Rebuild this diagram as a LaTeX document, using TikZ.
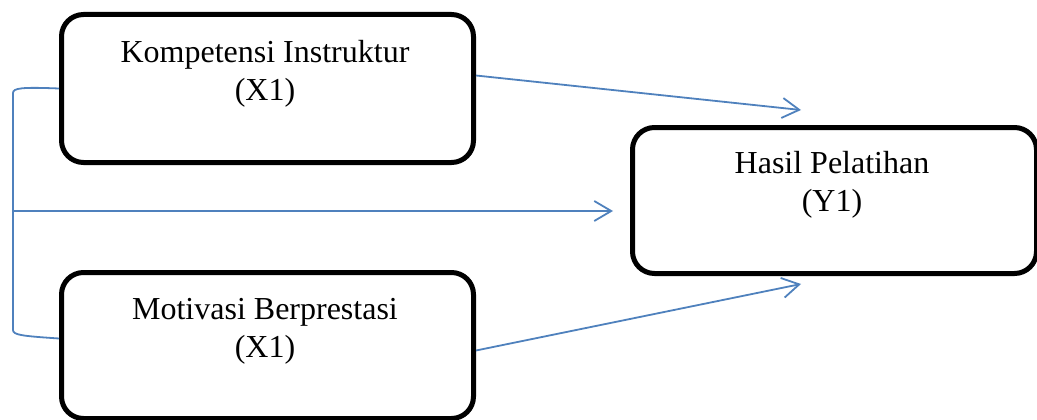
\documentclass[tikz,border=0pt]{standalone}
\usepackage{fontspec}
\setmainfont{Liberation Serif}
\usetikzlibrary{arrows.meta}
\definecolor{lineblue}{HTML}{4F81BD}
\begin{document}
\begin{tikzpicture}[x=1pt,y=-1pt,
  box/.style={draw=black,line width=5pt,rounded corners=22pt,anchor=north west},
  lbl/.style={font=\fontsize{32}{38}\selectfont,align=center,anchor=north,inner sep=0pt},
  conn/.style={draw=lineblue,line width=1.8pt},
  arr/.style={conn,-{Straight Barb[length=17pt,width=20pt,line width=1.8pt]}}]
\useasboundingbox (0,0) rectangle (1037,420);
% boxes
\node[box,minimum width=412pt,minimum height=148pt] (k) at (59,12) {};
\node[box,minimum width=412pt,minimum height=146pt] (m) at (59,270) {};
\node[box,minimum width=404pt,minimum height=146pt] (h) at (630,125) {};
% labels
\node[lbl] (kt) at (265,40) {Kompetensi Instruktur\\(X1)};
\node[lbl] (mt) at (265,298) {Motivasi Berprestasi\\(X1)};
\node[lbl] (ht) at (832,151) {Hasil Pelatihan\\(Y1)};
% free ends
\coordinate (t1) at (801,110);
\coordinate (t2) at (801,284);
\coordinate (bt) at (13,93);
\coordinate (bb) at (13,330);
\coordinate (bm) at (13,211);
% bracket
\draw[conn] (k.west) .. controls (22,87) and (13,88) .. (bt) -- (bb)
  .. controls (13,335) and (22,336) .. ([yshift=7pt]m.west);
% arrows
\draw[arr] ([yshift=13pt]k.east) -- (t1);
\draw[arr] ([yshift=-5pt]m.east) -- (t2);
\draw[arr,shorten >=17pt] (bm) -- (bm -| h.west);
\end{tikzpicture}
\end{document}
